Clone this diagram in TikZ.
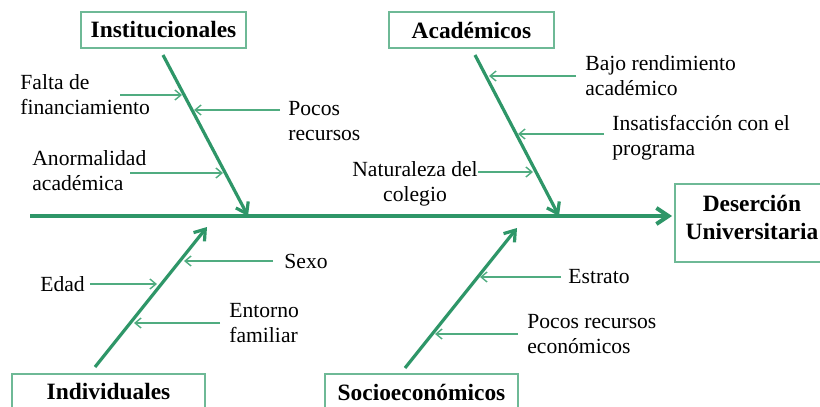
\documentclass[tikz,border=0pt]{standalone}
\usepackage{fontspec}
\setmainfont{Liberation Serif}
\usetikzlibrary{arrows.meta}
\definecolor{spinegreen}{RGB}{46,150,104}
\definecolor{boxgreen}{RGB}{110,185,150}
\definecolor{causegreen}{RGB}{80,172,128}
\begin{document}
\begin{tikzpicture}[x=0.5pt,y=-0.5pt]
 \tikzset{category/.style={draw=boxgreen, line width=0.8pt, inner sep=0pt, align=center, font=\fontsize{11.7}{14}\selectfont\bfseries}}
 \tikzset{cause/.style={inner sep=0pt, anchor=west, align=left, font=\fontsize{10.8}{12.6}\selectfont}}
 \tikzset{bone/.style={draw=spinegreen, line width=1.6pt, -{Straight Barb[length=5pt,width=7pt]}}}
 \tikzset{twig/.style={draw=causegreen, line width=0.7pt, -{Straight Barb[length=3pt,width=5pt]}}}
  \useasboundingbox (0,0) rectangle (820,407);
  % categories and effect
  \node[category, minimum width=82.5pt, minimum height=18pt] (Inst) at (163.5,30) {Institucionales};
  \node[category, minimum width=82.5pt, minimum height=18pt] (Acad) at (471.5,30) {Académicos};
  \node[category, minimum width=96.5pt, minimum height=18pt] (Indiv) at (108.5,392) {Individuales};
  \node[category, minimum width=96.5pt, minimum height=18pt] (Socio) at (421.5,392) {Socioeconómicos};
  \node[category, minimum width=90pt, minimum height=39pt, anchor=west] (Des) at (674,223) {};
  \node[category, draw=none] (DesText) at (752,217) {Deserción\\Universitaria};
  % spine and bones
  \coordinate (E0) at (30,216);
  \coordinate (I0) at (163,55);  \coordinate (I1) at (248,216);
  \coordinate (A0) at (475,55);  \coordinate (A1) at (559,216);
  \coordinate (D0) at (95,367);  \coordinate (D1) at (207,227);
  \coordinate (S0) at (405,368); \coordinate (S1) at (517,228);
  \draw[bone, line width=2pt, -{Straight Barb[length=6pt,width=8pt]}, shorten >=1pt] (E0) -- (E0 -| Des.west);
  \draw[bone] (I0) -- (I1);
  \draw[bone] (A0) -- (A1);
  \draw[bone] (D0) -- (D1);
  \draw[bone] (S0) -- (S1);
  % causes
  \node[cause] (falta) at (20,95) {Falta de\\financiamiento};
  \node[cause] (pocos) at (288,121) {Pocos\\recursos};
  \node[cause] (anorm) at (32,171) {Anormalidad\\académica};
  \node[cause, anchor=center, align=center] (natur) at (415,184) {Naturaleza del\\colegio};
  \node[cause] (bajo) at (585,76) {Bajo rendimiento\\académico};
  \node[cause] (insat) at (612,138) {Insatisfacción con el\\programa};
  \node[cause] (edad) at (40,284) {Edad};
  \node[cause] (sexo) at (284,261) {Sexo};
  \node[cause] (entorno) at (229,323) {Entorno\\familiar};
  \node[cause] (estrato) at (568,277) {Estrato};
  \node[cause] (pocoseco) at (527,334) {Pocos recursos\\económicos};
  \coordinate (fa0) at (120,95);  \coordinate (fa1) at (182,95);
  \coordinate (po0) at (280,110); \coordinate (po1) at (194,110);
  \coordinate (an0) at (130,173); \coordinate (an1) at (223,173);
  \coordinate (ba0) at (576,76);  \coordinate (ba1) at (489,76);
  \coordinate (in0) at (604,134); \coordinate (in1) at (518,134);
  \coordinate (na0) at (478,172); \coordinate (na1) at (533,172);
  \coordinate (ed0) at (90,284);  \coordinate (ed1) at (157,284);
  \coordinate (se0) at (273,261); \coordinate (se1) at (184,261);
  \coordinate (en0) at (220,323); \coordinate (en1) at (134,323);
  \coordinate (es0) at (561,277); \coordinate (es1) at (480,277);
  \coordinate (pe0) at (518,334); \coordinate (pe1) at (435,334);
  \draw[twig] (fa0) -- (fa1);
  \draw[twig] (po0) -- (po1);
  \draw[twig] (an0) -- (an1);
  \draw[twig] (ba0) -- (ba1);
  \draw[twig] (in0) -- (in1);
  \draw[twig] (na0) -- (na1);
  \draw[twig] (ed0) -- (ed1);
  \draw[twig] (se0) -- (se1);
  \draw[twig] (en0) -- (en1);
  \draw[twig] (es0) -- (es1);
  \draw[twig] (pe0) -- (pe1);
\end{tikzpicture}
\end{document}
